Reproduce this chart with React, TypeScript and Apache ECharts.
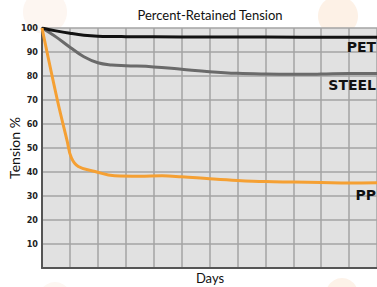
import React, { useEffect, useRef } from "react";
import * as echarts from "echarts";

const dayTicks = [0, 1, 2, 3, 4, 5, 6, 7, 8, 9, 10, 11, 12];
const yTicks = [0, 10, 20, 30, 40, 50, 60, 70, 80, 90, 100];

const petDays = [0, 0.5, 1, 1.5, 2, 3, 5, 8, 12];
const petValues = [100, 98.8, 97.8, 97.0, 96.6, 96.4, 96.3, 96.2, 96.1];

const steelDays = [0, 0.5, 1, 1.5, 2, 2.5, 3, 4, 5, 6, 7, 8, 9, 10, 11, 12];
const steelValues = [100, 96.3, 92, 88, 85.5, 84.6, 84.3, 83.8, 82.8, 81.8, 81.1, 80.8, 80.7, 80.8, 81, 81];

const ppDays = [0, 0.55, 0.9, 1.05, 1.3, 1.9, 2.6, 3.5, 4.3, 5, 6, 7, 8, 9, 10, 11, 12];
const ppValues = [100, 70, 53, 46, 42.3, 40.2, 38.4, 38.2, 38.4, 38, 37.2, 36.5, 36, 35.8, 35.6, 35.4, 35.5];

const seriesNames = ["PET", "STEEL", "PP"];

const zip = (xs: number[], ys: number[]) => xs.map((x, i) => [x, ys[i]]);

export default function App() {
  const ref = useRef<HTMLDivElement>(null);
  useEffect(() => {
    document.body.style.margin = "0";
    const chart = echarts.init(ref.current!, null, { renderer: "svg" });
    const fam = "Lato, 'Open Sans', sans-serif";
    const lbl = (text: string, x: number, y: number) => ({
      type: "text",
      x,
      y,
      z: 100,
      style: {
        text,
        fontFamily: "DejaVu Sans",
        fontWeight: "bold",
        fontSize: 14,
        fill: "#111",
        textAlign: "right",
        textVerticalAlign: "middle",
      },
    });
    chart.setOption({
      animation: false,
      backgroundColor: "#ffffff",
      graphic: [
        { type: "circle", z: -10, shape: { cx: 45, cy: 12, r: 22 }, style: { fill: "#fdf6f1" } },
        { type: "circle", z: -10, shape: { cx: 338, cy: 16, r: 20 }, style: { fill: "#fdf1e6" } },
        { type: "circle", z: -10, shape: { cx: 342, cy: 294, r: 16 }, style: { fill: "#fdf2e8" } },
        { type: "circle", z: -10, shape: { cx: 55, cy: 298, r: 16 }, style: { fill: "#fdf7f2" } },
        {
          type: "text",
          x: 210,
          y: 15,
          style: {
            text: "Percent-Retained Tension",
            fontFamily: fam,
            fontSize: 13,
            fill: "#111",
            textAlign: "center",
            textVerticalAlign: "middle",
          },
        },
        {
          type: "text",
          x: 210,
          y: 278,
          style: {
            text: "Days",
            fontFamily: fam,
            fontSize: 13,
            fill: "#111",
            textAlign: "center",
            textVerticalAlign: "middle",
          },
        },
        {
          type: "text",
          x: 14,
          y: 148,
          rotation: Math.PI / 2,
          style: {
            text: "Tension %",
            fontFamily: fam,
            fontSize: 14,
            fill: "#111",
            textAlign: "center",
            textVerticalAlign: "middle",
          },
        },
        lbl(seriesNames[0], 376, 47),
        lbl(seriesNames[1], 376, 85),
        lbl(seriesNames[2], 376, 195),
      ],
      grid: {
        left: 42,
        top: 28,
        right: -2,
        bottom: 19,
        show: true,
        backgroundColor: "#e1e1e1",
        borderWidth: 0,
      },
      xAxis: {
        type: "value",
        min: dayTicks[0],
        max: dayTicks[dayTicks.length - 1],
        interval: 1,
        axisLabel: { show: false },
        axisTick: { show: false },
        axisLine: { show: true, lineStyle: { color: "#555", width: 2 } },
        splitLine: { show: true, lineStyle: { color: "#a3a3a3", width: 1.5 } },
      },
      yAxis: {
        type: "value",
        min: yTicks[0],
        max: yTicks[yTicks.length - 1],
        interval: 10,
        axisTick: { show: false },
        axisLine: { show: true, lineStyle: { color: "#555", width: 2 } },
        splitLine: { show: true, lineStyle: { color: "#a3a3a3", width: 1.5 } },
        axisLabel: {
          margin: 4,
          fontFamily: "DejaVu Sans Condensed",
          fontWeight: "bold",
          fontSize: 9,
          color: "#222",
          formatter: (v: number) => (v === 0 ? "" : String(v)),
        },
      },
      series: [
        {
          name: seriesNames[1],
          type: "line",
          smooth: 0.4,
          symbol: "none",
          data: zip(steelDays, steelValues),
          lineStyle: { color: "#6a6a6a", width: 3 },
        },
        {
          name: seriesNames[0],
          type: "line",
          smooth: 0.4,
          symbol: "none",
          data: zip(petDays, petValues),
          lineStyle: { color: "#111111", width: 3 },
        },
        {
          name: seriesNames[2],
          type: "line",
          smooth: 0.4,
          symbol: "none",
          data: zip(ppDays, ppValues),
          lineStyle: { color: "#f5a033", width: 3 },
        },
      ],
    });
    return () => chart.dispose();
  }, []);
  return <div ref={ref} style={{ width: 377, height: 287 }} />;
}
